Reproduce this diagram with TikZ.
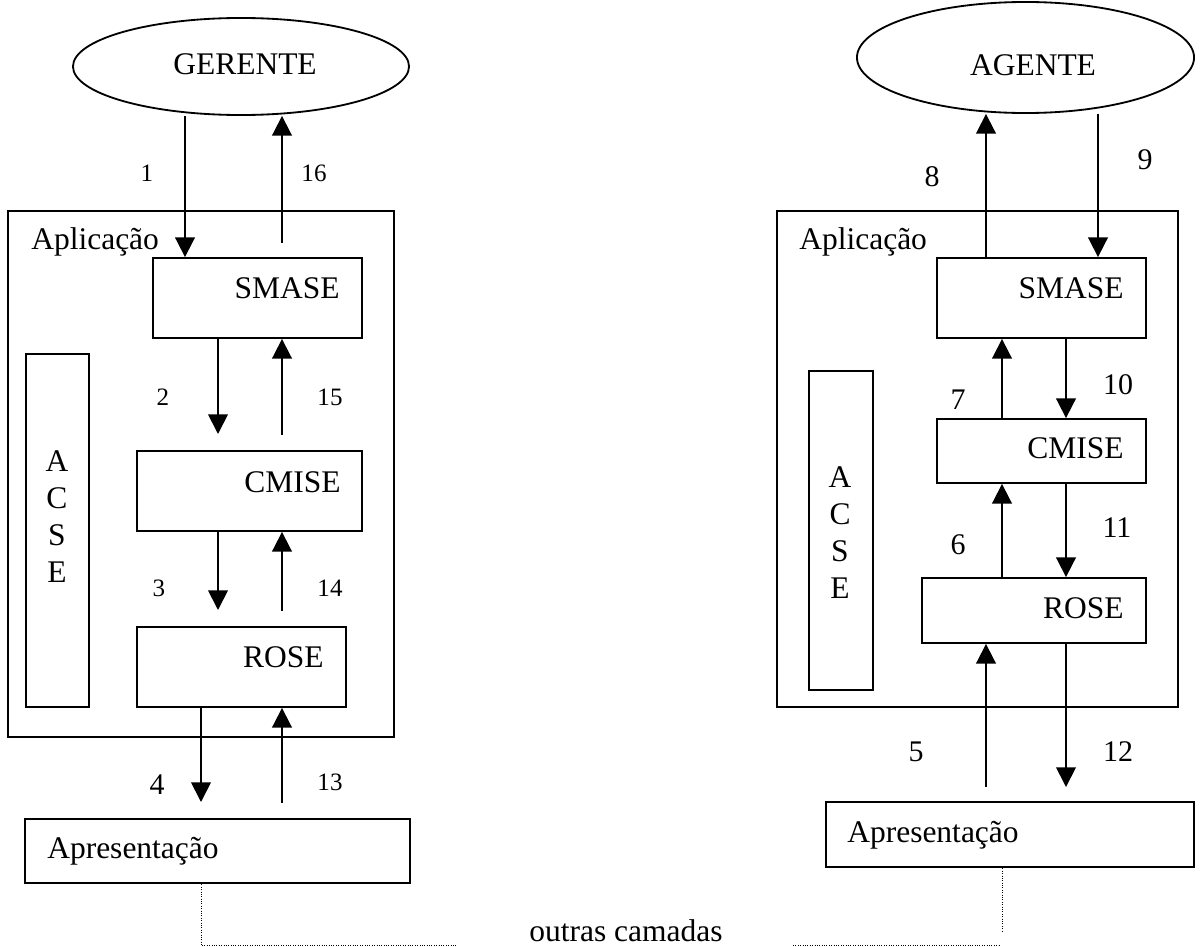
\documentclass[tikz,border=0pt]{standalone}
\usepackage{fontspec}
\setmainfont{Liberation Serif}
\usetikzlibrary{shapes, arrows.meta, fit, positioning}

\begin{document}
\begin{tikzpicture}[x=0.025cm, y=-0.025cm,
    box/.style={draw, line width=1.3pt, inner sep=0pt},
    lbl/.style={inner sep=0pt, font=\fontsize{22.4}{26.3}\selectfont},
    num/.style={inner sep=0pt, font=\fontsize{17.8}{20}\selectfont},
    bignum/.style={inner sep=0pt, font=\fontsize{21.3}{24}\selectfont}]
  \useasboundingbox (0,0) rectangle (1204,947);
  % gerente
  \begin{scope}[every node/.style={box}]
    \node[ellipse, minimum width=8.4cm, minimum height=2.425cm] (gerente) at (241,66.5) {};
    \node[fit={(8,211) (394,737)}] (aplG) {};
    \node[fit={(153,258) (362,338)}] (smaseG) {};
    \node[fit={(137,451) (362,531)}] (cmiseG) {};
    \node[fit={(137,627) (346,707)}] (roseG) {};
    \node[fit={(26,354) (89,707)}] (acseG) {};
    \node[fit={(25,819) (410,883)}, line width=1.9pt] (apresG) {};
  \end{scope}
  % agente
  \begin{scope}[every node/.style={box}]
    \node[ellipse, minimum width=8.425cm, minimum height=2.775cm] (agente) at (1025.5,57.5) {};
    \node[fit={(777,211) (1178,707)}] (aplA) {};
    \node[fit={(937,258) (1146,338)}] (smaseA) {};
    \node[fit={(937,419) (1146,483)}] (cmiseA) {};
    \node[fit={(922,578) (1146,643)}] (roseA) {};
    \node[fit={(809,371) (873,690)}] (acseA) {};
    \node[fit={(826,802) (1194,867)}, line width=1.9pt] (apresA) {};
  \end{scope}

  \begin{scope}[every node/.style={lbl}]
    \node (gerenteT) at (245,64) {GERENTE};
    \node[anchor=west] (aplGt) at (31,242) {Aplicação};
    \node[anchor=east] (smaseGt) at (340,288) {SMASE};
    \node[anchor=east] (cmiseGt) at (341,482) {CMISE};
    \node[anchor=east] (roseGt) at (324,657) {ROSE};
    \node[align=center] (acseGt) at (57,516.5) {A\\C\\S\\E};
    \node[anchor=west] (apresGt) at (47,851) {Apresentação};
    \node (agenteT) at (1033,65) {AGENTE};
    \node[anchor=west] (aplAt) at (799,242) {Aplicação};
    \node[anchor=east] (smaseAt) at (1124,288) {SMASE};
    \node[anchor=east] (cmiseAt) at (1124,448) {CMISE};
    \node[anchor=east] (roseAt) at (1124,608) {ROSE};
    \node[align=center] (acseAt) at (840,533) {A\\C\\S\\E};
    \node[anchor=west] (apresAt) at (847,835) {Apresentação};
    \node[anchor=base] (outras) at (626,941) {outras camadas};
  \end{scope}

  \begin{scope}[every node/.style={num}]
    \node (n1) at (147,173) {1};
    \node (n16) at (314,173) {16};
    \node (n2) at (163,397) {2};
    \node (n15) at (330,397) {15};
    \node (n3) at (159,588) {3};
    \node (n14) at (330,588) {14};
    \node[bignum] (n4) at (157,785) {4};
    \node (n13) at (330,782) {13};
  \end{scope}
  \begin{scope}[every node/.style={bignum}]
    \node (n8) at (932,177) {8};
    \node (n9) at (1145,160) {9};
    \node (n7) at (958,400) {7};
    \node (n10) at (1118,385) {10};
    \node (n6) at (958,545) {6};
    \node (n11) at (1117,528) {11};
    \node (n5) at (916,752) {5};
    \node (n12) at (1118,752) {12};
  \end{scope}

  \coordinate (c1) at (185,0);
  \coordinate (c4) at (201,0);
  \coordinate (e16) at (282,243);
  \coordinate (e2) at (218,434);
  \coordinate (e15) at (282,435);
  \coordinate (e3) at (218,610);
  \coordinate (e14) at (282,611);
  \coordinate (e4) at (201,802);
  \coordinate (e13) at (282,803);
  \coordinate (c8) at (986,0);
  \coordinate (c9) at (1098,0);
  \coordinate (cU) at (1002,0);
  \coordinate (cV) at (1066,0);
  \coordinate (e5) at (986,787);
  \coordinate (e12) at (1066,787);

  \begin{scope}[every edge/.style={draw=black, line width=1.3pt, -{Triangle[length=14pt,width=14pt]}}]
    \path (gerente.south -| c1) edge (smaseG.north -| c1);
    \path (e16) edge (gerente.south -| e16);
    \path (smaseG.south -| e2) edge (e2);
    \path (e15) edge (smaseG.south -| e15);
    \path (cmiseG.south -| e3) edge (e3);
    \path (e14) edge (cmiseG.south -| e14);
    \path (roseG.south -| e4) edge (e4);
    \path (e13) edge (roseG.south -| e13);
    \path (smaseA.north -| c8) edge (agente.south -| c8);
    \path (agente.south -| c9) edge (smaseA.north -| c9);
    \path (cmiseA.north -| cU) edge (smaseA.south -| cU);
    \path (smaseA.south -| cV) edge (cmiseA.north -| cV);
    \path (roseA.north -| cU) edge (cmiseA.south -| cU);
    \path (cmiseA.south -| cV) edge (roseA.north -| cV);
    \path (e5) edge (roseA.south -| e5);
    \path (roseA.south -| e12) edge (e12);
  \end{scope}

  \coordinate (d1) at (457,945.5);
  \coordinate (d2) at (793,945.5);
  \coordinate (d3) at (1000,945.5);
  \coordinate (d4) at (1002,932);
  \begin{scope}[densely dotted, line width=0.7pt]
    \draw (apresG.south -| c4) |- (d1);
    \draw (d2) -- (d3);
    \draw (apresA.south -| cU) -- (d4);
  \end{scope}
\end{tikzpicture}
\end{document}
